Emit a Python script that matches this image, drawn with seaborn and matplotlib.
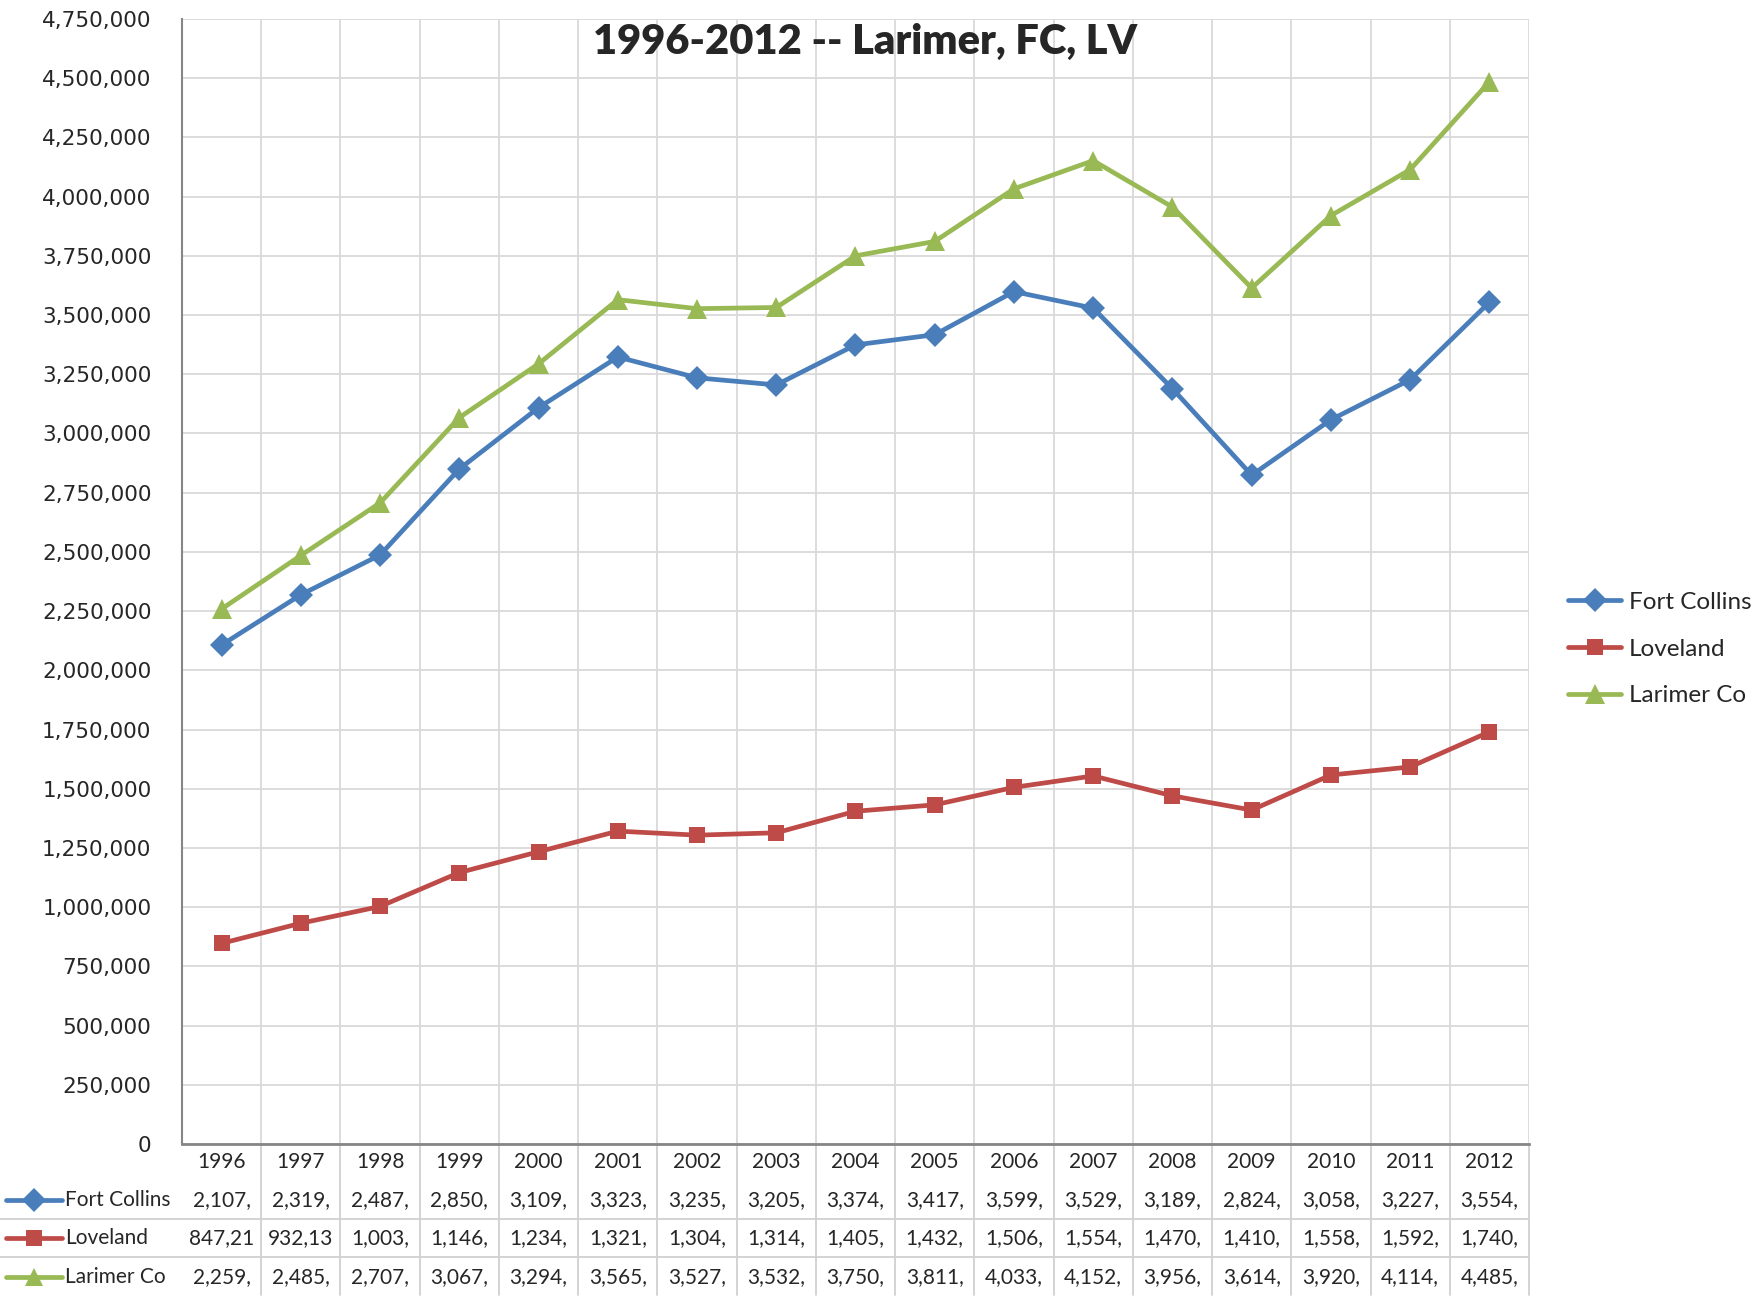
import pandas as pd
import seaborn as sns
import matplotlib.pyplot as plt
import numpy as np
from matplotlib.ticker import FuncFormatter, MultipleLocator, FixedLocator
from matplotlib import transforms
from matplotlib.lines import Line2D

# Data (thousands)
years = ['1996', '1997', '1998', '1999', '2000', '2001', '2002', '2003', '2004',
         '2005', '2006', '2007', '2008', '2009', '2010', '2011', '2012']
fort_collins = [2107, 2319, 2487, 2850, 3109, 3323, 3235, 3205, 3374,
                3417, 3599, 3529, 3189, 2824, 3058, 3227, 3554]
loveland = [847.21, 932.13, 1003, 1146, 1234, 1321, 1304, 1314, 1405,
            1432, 1506, 1554, 1470, 1410, 1558, 1592, 1740]
larimer_co = [2259, 2485, 2707, 3067, 3294, 3565, 3527, 3532, 3750,
              3811, 4033, 4152, 3956, 3614, 3920, 4114, 4485]
series_names = ['Fort Collins', 'Loveland', 'Larimer Co']
colors = {'Fort Collins': '#4A7EBB', 'Loveland': '#BE4B48', 'Larimer Co': '#98B954'}
markers = {'Fort Collins': 'D', 'Loveland': 's', 'Larimer Co': '^'}
title = '1996-2012 -- Larimer, FC, LV'

# long format for seaborn
rows = []
for name, vals in zip(series_names, [fort_collins, loveland, larimer_co]):
    for i, v in enumerate(vals):
        rows.append({'idx': i, 'value': v * 1000, 'series': name})
df = pd.DataFrame(rows)

sns.set_style('white')
plt.rcParams['font.family'] = ['Lato', 'DejaVu Sans']

fig = plt.figure(figsize=(17.65, 13.08), dpi=100)
ax = fig.add_axes([182 / 1765, 1 - 1144 / 1308, 1347 / 1765, 1125 / 1308])

sns.lineplot(data=df, x='idx', y='value', hue='series', style='series',
             palette=colors, markers=markers, dashes=False, linewidth=3.4,
             markersize=12, markeredgewidth=0, ax=ax, legend='full')
# Excel triangles are a bit larger
for line in ax.get_lines():
    if line.get_marker() == '^':
        line.set_markersize(14.5)

handles, labels = ax.get_legend_handles_labels()
ax.get_legend().remove()

ax.set_xlim(-0.5, 16.5)
ax.set_ylim(0, 4750000)
ax.set_xlabel('')
ax.set_ylabel('')
ax.yaxis.set_major_locator(MultipleLocator(250000))
ax.yaxis.set_major_formatter(FuncFormatter(lambda v, p: f'{int(v):,}'))
ax.xaxis.set_major_locator(FixedLocator([]))
ax.xaxis.set_minor_locator(FixedLocator(np.arange(-0.5, 17, 1)))
ax.grid(True, axis='y', which='major', color='#D9D9D9', linewidth=1.3)
ax.grid(True, axis='x', which='minor', color='#D9D9D9', linewidth=1.3)
ax.tick_params(axis='x', which='both', length=0)
ax.tick_params(axis='y', direction='out', length=6, width=1.3, color='#868686',
               labelsize=15.5, pad=16)
for lab in ax.get_yticklabels():
    lab.set_fontfamily('DejaVu Sans')
for s in ['top', 'right']:
    ax.spines[s].set_visible(False)
ax.spines['left'].set_color('#868686')
ax.spines['bottom'].set_color('#868686')
ax.spines['left'].set_linewidth(1.5)
ax.spines['bottom'].set_linewidth(2)

fig.text(865 / 1765, 1 - 42 / 1308, title, ha='center', va='center',
         fontsize=30, fontweight='heavy')

# data table below the axis
def ay(px):
    return (1144 - px) / 1125

def axx(px):
    return (px - 182) / 1347

blend = transforms.blended_transform_factory(ax.transData, ax.transAxes)
for k in range(len(years)):
    ax.add_line(Line2D([k + 0.5, k + 0.5], [0, ay(1295)], transform=blend,
                       color='#D0D0D0', linewidth=1.3, clip_on=False))
for ypx in [1219, 1257]:
    ax.add_line(Line2D([axx(0), 1], [ay(ypx), ay(ypx)], transform=ax.transAxes,
                       color='#D0D0D0', linewidth=1.3, clip_on=False))

for i, yr in enumerate(years):
    ax.text(i, ay(1162), yr, transform=blend, ha='center', va='center', fontsize=15)

row_y = [1200, 1238, 1277]
for name, vals, ypx in zip(series_names, [fort_collins, loveland, larimer_co], row_y):
    for i, v in enumerate(vals):
        txt = f'{int(round(v * 1000)):,}'[:6]
        ax.text(i, ay(ypx), txt, transform=blend, ha='center', va='center', fontsize=15)
    ax.add_line(Line2D([axx(6), axx(62)], [ay(ypx), ay(ypx)], transform=ax.transAxes,
                       color=colors[name], linewidth=3.4, clip_on=False,
                       solid_capstyle='round'))
    ax.add_line(Line2D([axx(34)], [ay(ypx)], transform=ax.transAxes,
                       marker=markers[name], markersize=12 if name != 'Larimer Co' else 13,
                       markeredgewidth=0, color=colors[name], clip_on=False))
    ax.text(axx(65), ay(ypx), name, transform=ax.transAxes, ha='left', va='center',
            fontsize=15)

fig.legend(handles, labels, loc='center left',
           bbox_to_anchor=(1546 / 1765, 1 - 649 / 1308), frameon=False,
           fontsize=17.5, handlelength=2.2, handletextpad=0.3, labelspacing=1.05)

fig.savefig('out.png', dpi=100)
